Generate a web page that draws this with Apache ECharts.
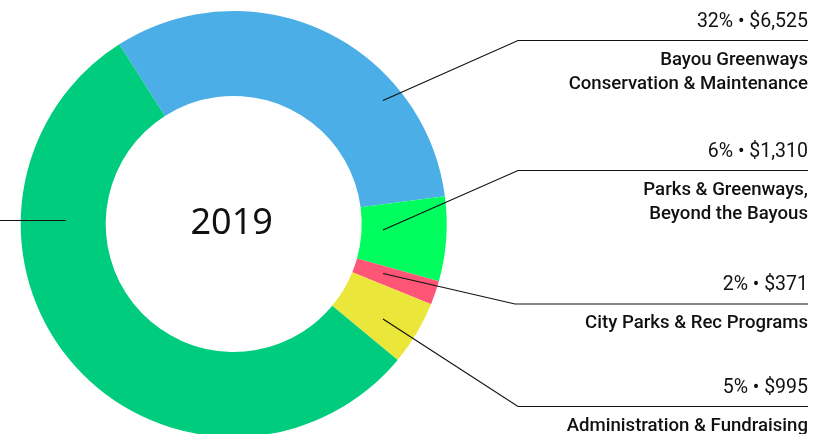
<!DOCTYPE html>
<html>
<head>
<meta charset="utf-8">
<script src="https://cdn.jsdelivr.net/npm/echarts@6/dist/echarts.min.js"></script>
<style>
html,body{margin:0;padding:0;background:#fff;}
#chart{width:814px;height:434px;}
</style>
</head>
<body>
<div id="chart"></div>
<script>
// ---- data ----
const year = '2019';
const categories = [
  'Bayou Greenways\nConservation & Maintenance',
  'Parks & Greenways,\nBeyond the Bayous',
  'City Parks & Rec Programs',
  'Administration & Fundraising',
  'Bayou Greenways\nCapital Projects'
];
const values = [6525, 1310, 371, 995, 11225];
const colors = ['#4caee6', '#00ff5e', '#ff5577', '#ebe73a', '#00cc7e'];

// ---- layout (label anchors, px) ----
const CX = 233.7, CY = 224;
const labelLayoutCfg = [
  { sx: 383, sy: 100.5, bx: 518, ly: 40.5 },
  { sx: 383, sy: 230,   bx: 518, ly: 170.5 },
  { sx: 383, sy: 273.5, bx: 515, ly: 304 },
  { sx: 383, sy: 319,   bx: 518, ly: 406.5 },
  { sx: 66,  sy: 220.5, bx: -60, ly: 220.5, left: true }
];
const RIGHT_X = 808;

const total = values.reduce((a, b) => a + b, 0);
const fmtMoney = v => '$' + v.toLocaleString('en-US');
const pieData = categories.map((c, i) => ({ name: c, value: values[i] }));

const chart = echarts.init(document.getElementById('chart'), null, { renderer: 'canvas' });

const common = {
  type: 'pie',
  center: [CX, CY],
  radius: [128, 213],
  startAngle: 122.5,
  clockwise: true,
  avoidLabelOverlap: false,
  silent: true,
  emphasis: { disabled: true },
  data: pieData
};

const option = {
  animation: false,
  backgroundColor: '#ffffff',
  color: colors,
  graphic: [{
    type: 'text',
    x: CX - 2, y: CY,
    style: {
      text: year,
      font: '400 36px "Noto Sans"',
      fill: '#111',
      textAlign: 'center',
      textVerticalAlign: 'middle'
    }
  }],
  series: [
    Object.assign({}, common, {
      itemStyle: { borderWidth: 0 },
      label: { show: false },
      labelLine: { show: false }
    }),
    Object.assign({}, common, {
      z: 10,
      itemStyle: { color: 'rgba(0,0,0,0)', borderWidth: 0 },
      label: {
        show: true,
        position: 'outside',
        formatter: p => {
          const pct = Math.round(p.value / total * 100) + '% \u2022 ' + fmtMoney(p.value);
          const lines = p.name.split('\n').map(s => '{n|' + s + '}').join('\n');
          return '{p|' + pct + '}\n{g| }\n' + lines;
        },
        align: 'right',
        rich: {
          p: { fontFamily: 'Roboto', fontSize: 19.5, fontWeight: 400, color: '#111', lineHeight: 24, align: 'right' },
          g: { fontSize: 4, lineHeight: 14, align: 'right' },
          n: { fontFamily: 'Roboto', fontSize: 18.6, fontWeight: 500, color: '#111', lineHeight: 24, align: 'right' }
        }
      },
      labelLine: {
        show: true,
        lineStyle: { color: '#111', width: 1.2 }
      },
      labelLayout: function (params) {
        const cfg = labelLayoutCfg[params.dataIndex];
        if (cfg.left) {
          return {
            x: cfg.bx - 400,
            y: cfg.ly - 30.5,
            align: 'right',
            verticalAlign: 'top',
            labelLinePoints: [[cfg.sx, cfg.sy], [cfg.bx, cfg.ly], [cfg.bx - 10, cfg.ly]]
          };
        }
        return {
          x: RIGHT_X,
          y: cfg.ly - 30.5,
          align: 'right',
          verticalAlign: 'top',
          labelLinePoints: [[cfg.sx, cfg.sy], [cfg.bx, cfg.ly], [RIGHT_X, cfg.ly]]
        };
      }
    })
  ]
};
chart.setOption(option);
</script>
</body>
</html>
